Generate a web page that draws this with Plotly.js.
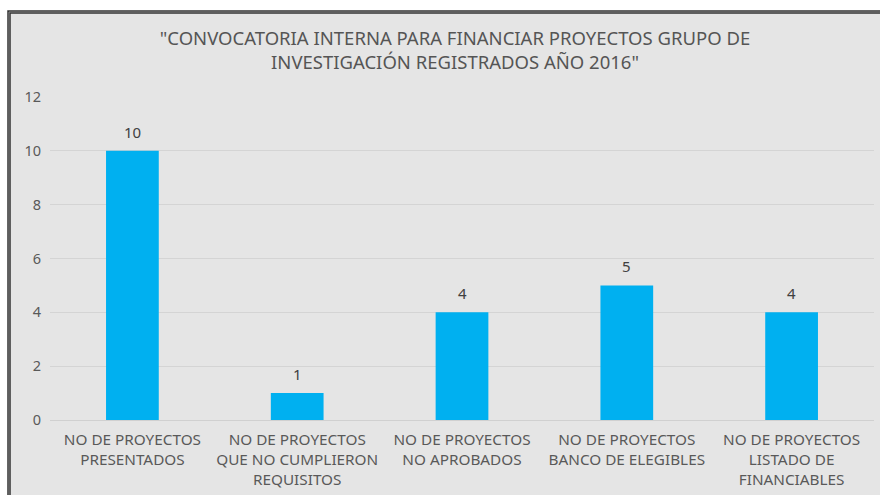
<!DOCTYPE html>
<html><head><meta charset="utf-8">
<script src="https://cdn.plot.ly/plotly-3.0.1.min.js"></script>
<style>html,body{margin:0;padding:0;background:#fff;}#chart{width:880px;height:495px;}</style>
</head><body><div id="chart"></div>
<script>
const categories = [
  "NO DE PROYECTOS<br>PRESENTADOS",
  "NO DE PROYECTOS<br>QUE NO CUMPLIERON<br>REQUISITOS",
  "NO DE PROYECTOS<br>NO APROBADOS",
  "NO DE PROYECTOS<br>BANCO DE ELEGIBLES",
  "NO DE PROYECTOS<br>LISTADO DE<br>FINANCIABLES"
];
const values = [10, 1, 4, 5, 4];
const yTicks = [0, 2, 4, 6, 8, 10, 12];
const titleText = "\"CONVOCATORIA INTERNA PARA FINANCIAR PROYECTOS GRUPO DE<br>INVESTIGACIÓN REGISTRADOS AÑO 2016\"";

const L = 50, R = 6, T = 97, B = 75, W = 880, H = 495;
const pw = W - L - R, ph = H - T - B;
const px = p => (p - L) / pw;
const py = p => (H - B - p) / ph;

const data = [{
  type: 'bar',
  x: categories,
  y: values,
  marker: {color: '#00B0F0'},
  hoverinfo: 'none'
}];

const annotations = categories.map((c, i) => ({
  x: c, y: values[i], xref: 'x', yref: 'y',
  text: String(values[i]), showarrow: false,
  yanchor: 'middle', yshift: 19,
  font: {family: 'Noto Sans', size: 15, color: '#404040'}
}));

const layout = {
  width: W, height: H,
  margin: {l: L, r: R, t: T, b: B},
  paper_bgcolor: '#ffffff',
  plot_bgcolor: 'rgba(0,0,0,0)',
  bargap: 0.68,
  showlegend: false,
  font: {family: 'Noto Sans', color: '#595959'},
  title: {
    text: titleText,
    font: {family: 'Noto Sans', size: 18.5, color: '#555555'},
    xref: 'paper', x: px(455), xanchor: 'center',
    yref: 'container', y: 1 - 45 / H, yanchor: 'middle'
  },
  xaxis: {
    type: 'category',
    tickfont: {family: 'Noto Sans', size: 15.3, color: '#595959'},
    showgrid: false, zeroline: false,
    showline: false, ticks: '', ticklabelstandoff: 9
  },
  yaxis: {
    range: [0, 12],
    tickvals: yTicks,
    ticktext: yTicks.map(String),
    tickfont: {family: 'Noto Sans', size: 14.5, color: '#595959'},
    showgrid: true, gridcolor: '#d4d4d4', gridwidth: 1,
    zeroline: true, zerolinecolor: '#d0d0d0', zerolinewidth: 1,
    ticks: '', ticklabelstandoff: 8
  },
  annotations: annotations,
  shapes: [
    {type: 'rect', xref: 'paper', yref: 'paper', layer: 'below',
     x0: px(9), x1: px(900), y0: py(12), y1: py(520),
     fillcolor: '#e5e5e5', line: {color: '#333333', width: 3.5}},
    {type: 'rect', xref: 'paper', yref: 'paper', layer: 'below',
     x0: px(9), x1: px(900), y0: py(12), y1: py(520),
     fillcolor: 'rgba(0,0,0,0)', line: {color: '#8a8a8a', width: 1}}
  ]
};

Plotly.newPlot('chart', data, layout, {displayModeBar: false, staticPlot: true});
</script></body></html>
